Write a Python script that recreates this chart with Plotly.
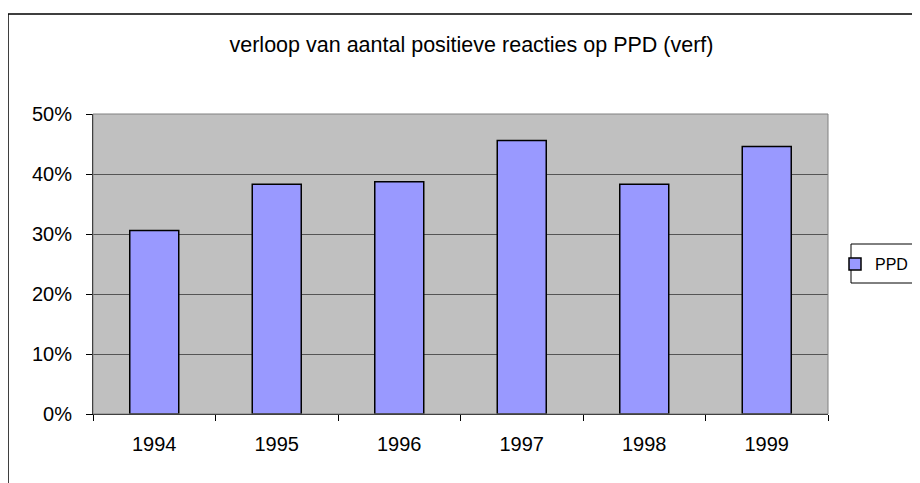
import plotly.graph_objects as go

years = ["1994", "1995", "1996", "1997", "1998", "1999"]
ppd_values = [0.306, 0.383, 0.387, 0.456, 0.383, 0.446]
y_ticks = [0, 0.1, 0.2, 0.3, 0.4, 0.5]
y_tick_labels = ["0%", "10%", "20%", "30%", "40%", "50%"]

FONT = "Liberation Sans, Arial, sans-serif"

# page offset (body margin of the html page)
O = 8
W, H = 920 - O, 483 - O
L, R, T, B = 93 - O, 828 - O, 114 - O, 414 - O
pw, ph = R - L, B - T


def px(x):
    return (x - O - L) / pw


def py(y):
    return (B - (y - O)) / ph


fig = go.Figure()
fig.add_trace(go.Bar(
    x=years, y=ppd_values, name="PPD",
    marker=dict(color="#9999FF", line=dict(color="black", width=1.5)),
    width=0.4,
))

fig.update_layout(
    width=W, height=H, autosize=False,
    margin=dict(l=L, r=W - R, t=T, b=H - B, pad=0, autoexpand=False),
    paper_bgcolor="white", plot_bgcolor="#C0C0C0",
    font=dict(family=FONT, color="black", size=20),
    title=dict(text="verloop van aantal positieve reacties op PPD (verf)",
               x=px(471.5), xref="paper", xanchor="center",
               y=1 - (44 - O) / H, yanchor="middle", font=dict(size=21.5)),
    showlegend=True,
    legend=dict(x=px(835), y=py(264), xanchor="left", yanchor="middle",
                borderwidth=0, bgcolor="rgba(0,0,0,0)",
                font=dict(size=16), itemwidth=30),
    xaxis=dict(type="category", showline=True, linecolor="black", linewidth=1,
               ticks="outside", tickson="boundaries", ticklen=6, tickcolor="black",
               showgrid=False, ticklabelstandoff=12),
    yaxis=dict(range=[0, 0.5], tickvals=y_ticks, ticktext=y_tick_labels,
               showline=True, linecolor="black", linewidth=1,
               ticks="outside", ticklen=6, tickcolor="black",
               showgrid=True, gridcolor="#555555", gridwidth=1,
               zeroline=False, ticklabelstandoff=10),
    bargap=0.6,
)

# plot area border (grey), outer chart border, legend box
fig.add_shape(type="rect", xref="paper", yref="paper", x0=0, x1=1, y0=0, y1=1,
              line=dict(color="#808080", width=1), layer="above")
fig.add_shape(type="rect", xref="paper", yref="paper",
              x0=px(8), x1=px(960), y0=py(14), y1=py(520),
              line=dict(color="black", width=1.5))
fig.add_shape(type="rect", xref="paper", yref="paper",
              x0=px(851), x1=px(960), y0=py(283), y1=py(244),
              line=dict(color="black", width=1), fillcolor="white", layer="above")

fig.write_html("out.html")
